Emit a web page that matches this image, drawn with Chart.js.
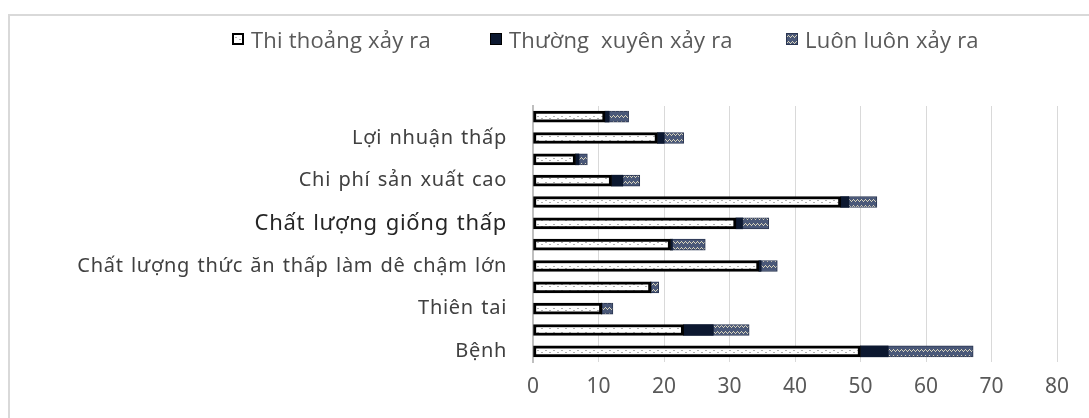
<!DOCTYPE html>
<html lang="vi">
<head>
<meta charset="utf-8">
<title>Mức độ xảy ra các khó khăn trong chăn nuôi dê</title>
<script src="https://cdn.jsdelivr.net/npm/chart.js@4.4.1/dist/chart.umd.min.js"></script>
<style>
  html, body { margin: 0; padding: 0; background: #fff; }
  body { width: 1089px; height: 418px; overflow: hidden; position: relative; }
  #frame {
    position: absolute; left: 8px; top: 14px; width: 1100px; height: 420px;
    border: 2px solid #d9d9d9; box-sizing: border-box;
  }
  #chart { position: absolute; left: 0; top: 0; }
  #legend { position: absolute; left: 0; top: 25px; width: 1089px; height: 28px; }
  .lg-item {
    position: absolute; top: 0; display: flex; align-items: center; height: 28px;
    font-family: "Open Sans", "Noto Sans", sans-serif;
    font-size: 22px; color: #595959; white-space: pre; letter-spacing: 0.2px;
  }
  .lg-box { width: 12px; height: 12px; box-sizing: border-box; margin-right: 7px; }
</style>
</head>
<body>
<div id="frame"></div>
<canvas id="chart" width="1089" height="418"></canvas>
<div id="legend"></div>
<script>
// Khó khăn (mỗi nhóm có hai thanh, nhãn đặt ở thanh dưới)
const categories = [
  '', 'Lợi nhuận thấp',
  '', 'Chi phí sản xuất cao',
  '', 'Chất lượng giống thấp',
  '', 'Chất lượng thức ăn thấp làm dê chậm lớn',
  '', 'Thiên tai',
  '', 'Bệnh'
];
const seriesNames = ['Thi thoảng xảy ra', 'Thường  xuyên xảy ra', 'Luôn luôn xảy ra'];
const thiThoang   = [11, 19, 6.5, 12, 47, 31, 21, 34.5, 18, 10.5, 23, 50];
const thuongXuyen = [0.6, 1, 0.5, 1.7, 1.2, 1, 0.3, 0.3, 0, 0, 4.5, 4.2];
const luonLuon    = [3, 3, 1.3, 2.6, 4.3, 4, 5, 2.5, 1.2, 1.7, 5.5, 13];
const xTicks = [0, 10, 20, 30, 40, 50, 60, 70, 80];

const LABEL_FONT = '"Noto Sans", "Open Sans", sans-serif';

// Họa tiết tô cho các chuỗi
function makeTile(bg, draw) {
  const c = document.createElement('canvas');
  c.width = 8; c.height = 6;
  const g = c.getContext('2d');
  g.fillStyle = bg; g.fillRect(0, 0, c.width, c.height);
  draw(g);
  return c;
}
const dotTile = makeTile('#ffffff', g => {
  g.fillStyle = '#b0b0b0';
  g.fillRect(1, 2, 2, 1);
  g.fillRect(5, 4, 2, 1);
});
const zigTile = makeTile('#4a5878', g => {
  g.fillStyle = '#d9d4bc';
  g.fillRect(0, 2, 1, 1); g.fillRect(1, 1, 1, 1); g.fillRect(2, 2, 1, 1);
  g.fillRect(3, 3, 1, 1); g.fillRect(4, 2, 1, 1); g.fillRect(5, 1, 1, 1);
  g.fillRect(6, 2, 1, 1); g.fillRect(7, 3, 1, 1);
});
const ctx = document.getElementById('chart').getContext('2d');
const dotFill = ctx.createPattern(dotTile, 'repeat');
const zigFill = ctx.createPattern(zigTile, 'repeat');

const data = {
  labels: categories,
  datasets: [
    { label: seriesNames[0], data: thiThoang, backgroundColor: dotFill,
      borderColor: '#000000', borderWidth: 3, borderSkipped: false,
      swatch: { bg: 'url(' + dotTile.toDataURL() + ')', border: '2px solid #000' } },
    { label: seriesNames[1], data: thuongXuyen, backgroundColor: '#0c1830',
      borderWidth: 0,
      swatch: { bg: '#0c1830', border: '1px solid #000' } },
    { label: seriesNames[2], data: luonLuon, backgroundColor: zigFill,
      borderColor: '#2a3550', borderWidth: 1, borderSkipped: false,
      swatch: { bg: 'url(' + zigTile.toDataURL() + ')', border: '1px solid #2a3550' } }
  ]
};

// Chú giải HTML dựng từ các chuỗi dữ liệu
const legendLefts = [232, 490, 786];
const htmlLegend = {
  id: 'htmlLegend',
  afterUpdate(chart) {
    const box = document.getElementById('legend');
    box.innerHTML = '';
    chart.data.datasets.forEach((ds, i) => {
      const item = document.createElement('div');
      item.className = 'lg-item';
      item.style.left = legendLefts[i] + 'px';
      const sw = document.createElement('span');
      sw.className = 'lg-box';
      sw.style.background = ds.swatch.bg;
      sw.style.border = ds.swatch.border;
      const tx = document.createElement('span');
      tx.textContent = ds.label;
      item.appendChild(sw); item.appendChild(tx);
      box.appendChild(item);
    });
  }
};

// Giãn chữ nhãn trục danh mục
const yLabelSpacing = {
  id: 'yLabelSpacing',
  beforeDraw(chart) {
    const s = chart.scales.y;
    if (s && !s._spaced) {
      const orig = s.drawLabels.bind(s);
      s.drawLabels = function (area) {
        const c = this.ctx;
        c.save();
        c.letterSpacing = '0.7px';
        c.wordSpacing = '1.5px';
        orig(area);
        c.restore();
      };
      s._spaced = true;
    }
  }
};

new Chart(ctx, {
  type: 'bar',
  data,
  plugins: [htmlLegend, yLabelSpacing],
  options: {
    indexAxis: 'y',
    responsive: false,
    devicePixelRatio: 1,
    animation: false,
    layout: { padding: { top: 106, right: 32, bottom: 0, left: 0 } },
    datasets: { bar: { barThickness: 11 } },
    plugins: { legend: { display: false }, tooltip: { enabled: false } },
    scales: {
      x: {
        stacked: true, min: 0, max: 80,
        afterBuildTicks(scale) { scale.ticks = xTicks.map(v => ({ value: v })); },
        afterFit(scale) { scale.height = 56; },
        grid: { color: '#d9d9d9', lineWidth: 1, drawTicks: false },
        border: { display: false },
        ticks: { padding: 12, color: '#595959', font: { family: LABEL_FONT, size: 21 } }
      },
      y: {
        stacked: true,
        afterFit(scale) { scale.width = 533; },
        grid: { display: false, drawTicks: false },
        border: { display: true, color: '#bfbfbf', width: 2 },
        ticks: {
          autoSkip: false, padding: 26,
          color: c => c.index === 5 ? '#262626' : '#404040',
          font: c => c.index === 5 ? { family: LABEL_FONT, size: 22 } : { family: LABEL_FONT, size: 20 }
        }
      }
    }
  }
});
</script>
</body>
</html>
